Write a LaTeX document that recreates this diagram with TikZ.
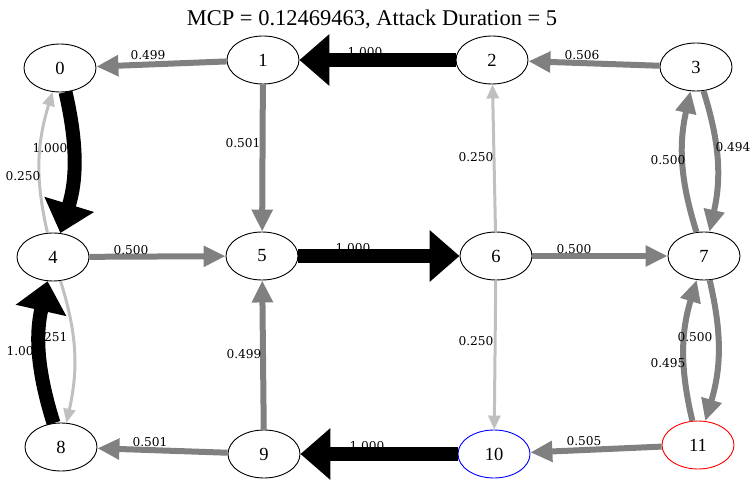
\documentclass[tikz,border=0pt]{standalone}
\usepackage{fontspec}
\setmainfont{Liberation Serif}
\newfontfamily\wlabelfont{DejaVu Serif}
\usetikzlibrary{shapes.geometric,arrows.meta}
\definecolor{edgegray}{HTML}{808080}
\definecolor{edgelight}{HTML}{C0C0C0}
\tikzset{
  state/.style={ellipse, draw, line width=0.9pt, fill=white, minimum width=72pt,
    minimum height=48pt, inner sep=0pt, font=\fontsize{18.5}{19}\selectfont},
  heavyedge/.style={draw=black, line width=14pt, -{Triangle[length=30pt,width=50pt]}},
  midedge/.style={draw=edgegray, line width=6pt, -{Triangle[length=22pt,width=20pt]}},
  lightedge/.style={draw=edgelight, line width=3pt, -{Triangle[length=14pt,width=12pt]}},
  wlabel/.style={font=\wlabelfont\fontsize{12.2}{13}\selectfont, inner sep=0pt}
}
\begin{document}
\begin{tikzpicture}[x=1pt,y=-1pt]
      \useasboundingbox (0,0) rectangle (756,484);
      \node[font=\fontsize{22.5}{23}\selectfont] (title) at (372,19)
        {MCP = 0.12469463, Attack Duration = 5};
      \draw
        (60,68) node[state] (0){0}
        (263,60) node[state] (1){1}
        (492,60) node[state] (2){2}
        (696,67) node[state] (3){3}
        (53,257) node[state] (4){4}
        (262,256) node[state] (5){5}
        (496,256) node[state] (6){6}
        (704,256) node[state] (7){7}
        (61,447) node[state] (8){8}
        (264,454) node[state] (9){9}
        (494,454) node[state, draw=blue] (10){10}
        (698,445) node[state, draw=red] (11){11};
      \begin{scope}
        \draw[midedge] (1) to (0);
        \draw[heavyedge] (2) to (1);
        \draw[midedge] (3) to (2);
        \draw[heavyedge] (0) to[bend left=15] (4);
        \draw[lightedge] (4) to[bend left=15] (0);
        \draw[midedge] (1) to (5);
        \draw[lightedge] (6) to (2);
        \draw[midedge] (3) to[bend left=15] (7);
        \draw[midedge] (7) to[bend left=15] (3);
        \draw[midedge] (4) to (5);
        \draw[heavyedge] (5) to (6);
        \draw[midedge] (6) to (7);
        \draw[heavyedge] (8) to[bend left=15] (4);
        \draw[lightedge] (4) to[bend left=15] (8);
        \draw[midedge] (9) to (5);
        \draw[lightedge] (6) to (10);
        \draw[midedge] (7) to[bend left=15] (11);
        \draw[midedge] (11) to[bend left=15] (7);
        \draw[midedge] (9) to (8);
        \draw[heavyedge] (10) to (9);
        \draw[midedge] (11) to (10);
      \end{scope}
      % edge weights
      \node[wlabel] (w10) at (148,55) {0.499};
      \node[wlabel] (w21) at (365,52) {1.000};
      \node[wlabel] (w32) at (582,55) {0.506};
      \node[wlabel] (w04) at (50,148) {1.000};
      \node[wlabel] (w40) at (23,176) {0.250};
      \node[wlabel] (w15) at (243,143) {0.501};
      \node[wlabel] (w62) at (476,157) {0.250};
      \node[wlabel] (w73) at (668,160) {0.500};
      \node[wlabel] (w37) at (733,147) {0.494};
      \node[wlabel] (w45) at (131,250) {0.500};
      \node[wlabel] (w56) at (353,248) {1.000};
      \node[wlabel] (w67) at (574,249) {0.500};
      \node[wlabel] (w84) at (24,351) {1.000};
      \node[wlabel] (w48) at (50,337) {0.251};
      \node[wlabel] (w95) at (244,354) {0.499};
      \node[wlabel] (w610) at (476,341) {0.250};
      \node[wlabel] (w711) at (695,337) {0.500};
      \node[wlabel] (w117) at (668,363) {0.495};
      \node[wlabel] (w98) at (150,442) {0.501};
      \node[wlabel] (w109) at (367,446) {1.000};
      \node[wlabel] (w1110) at (584,441) {0.505};
    \end{tikzpicture}
\end{document}
